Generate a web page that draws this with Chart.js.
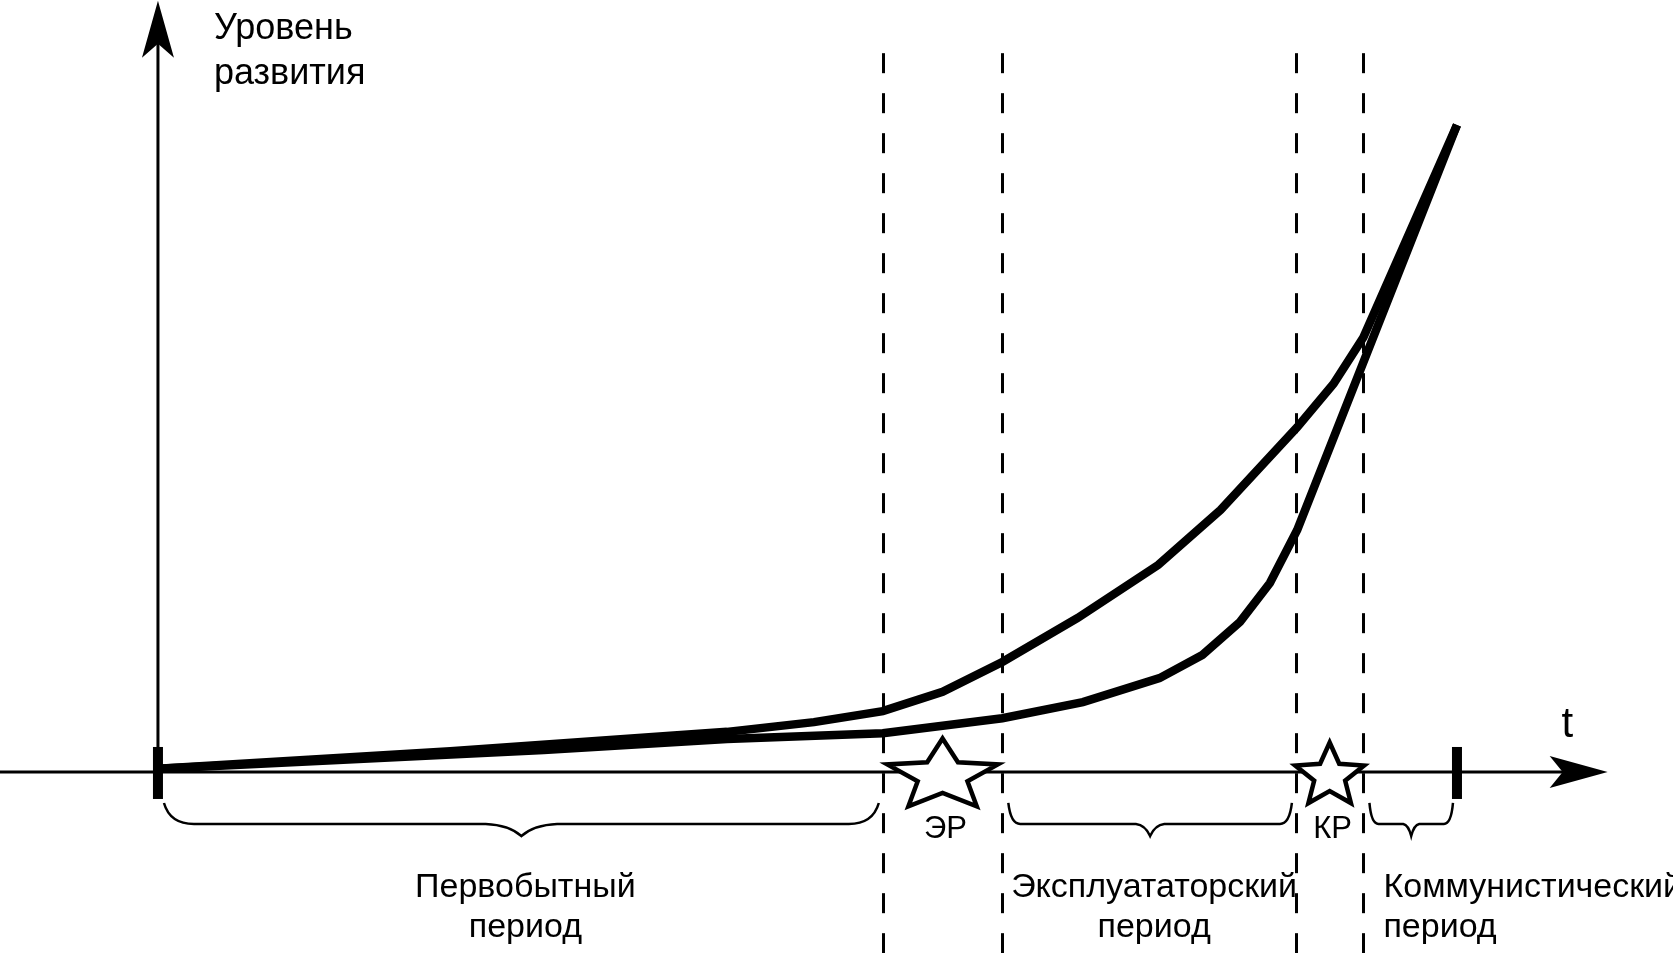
<!DOCTYPE html>
<html>
<head>
<meta charset="utf-8">
<script src="https://cdn.jsdelivr.net/npm/chart.js@4/dist/chart.umd.min.js"></script>
<style>
    html, body { margin: 0; padding: 0; background: #fff; }
    #wrap { width: 1673px; height: 953px; }
</style>
</head>
<body>
<div id="wrap"><canvas id="scheme" width="1673" height="953"></canvas></div>
<script>
// time axis: 0 = start of history, 100 = end tick; level axis: 0 = t-axis
var timeUpper  = [0, 22.5, 43.8, 50.5, 55.8, 60.4, 65.0, 70.8, 77.0, 81.8, 87.7, 90.5, 92.8, 100];
var levelUpper = [0.5, 3.2, 6.2, 7.7, 9.4, 12.4, 17.0, 23.8, 32.0, 40.5, 53.3, 60.0, 67.2, 100];

var timeLower  = [0, 29.7, 43.8, 55.8, 65.0, 71.2, 77.1, 80.4, 83.3, 85.6, 87.7, 100];
var levelLower = [0.5, 3.4, 5.1, 6.0, 8.3, 10.8, 14.5, 18.1, 23.2, 29.2, 37.4, 100];

// dashed borders of the periods
var borders = [55.8, 65.0, 87.6, 92.8];
var timeEnd = 100;

var periodLabels = [["Первобытный", "период"], ["Эксплуататорский", "период"], ["Коммунистический", "период"]];
var revolutionLabels = ["ЭР", "КР"];
var axisLabelY = ["Уровень", "развития"];
var axisLabelX = "t";

var FONT = '"Liberation Sans", Arial, sans-serif';

function makePoints(ts, ls) {
    var pts = [];
    for (var i = 0; i < ts.length; i++) pts.push({ x: ts[i], y: ls[i] });
    return pts;
}

function drawStar(ctx, cx, cy, R, sx) {
    var r = R * 0.45;
    ctx.beginPath();
    for (var i = 0; i < 10; i++) {
        var a = -Math.PI / 2 + i * Math.PI / 5;
        var rad = (i % 2 === 0) ? R : r;
        var x = cx + sx * rad * Math.cos(a);
        var y = cy + rad * Math.sin(a);
        if (i === 0) ctx.moveTo(x, y); else ctx.lineTo(x, y);
    }
    ctx.closePath();
    ctx.fillStyle = "#fff";
    ctx.fill();
    ctx.lineWidth = 4.5;
    ctx.strokeStyle = "#000";
    ctx.stroke();
}

function drawBrace(ctx, x0, x1, yTop, yH, depth) {
    var span = x1 - x0, xm = (x0 + x1) / 2;
    var ew = Math.max(9, span * 0.042), bw = Math.max(8, span * 0.05);
    ctx.beginPath();
    ctx.moveTo(x0, yTop);
    ctx.quadraticCurveTo(x0 + ew * 0.2, yH, x0 + ew, yH);
    ctx.lineTo(xm - bw, yH);
    ctx.quadraticCurveTo(xm - bw * 0.35, yH + 1, xm, yH + depth);
    ctx.quadraticCurveTo(xm + bw * 0.35, yH + 1, xm + bw, yH);
    ctx.lineTo(x1 - ew, yH);
    ctx.quadraticCurveTo(x1 - ew * 0.2, yH, x1, yTop);
    ctx.lineWidth = 2.5;
    ctx.strokeStyle = "#000";
    ctx.stroke();
}

var scheme = {
    id: "scheme",
    beforeDatasetsDraw: function (chart) {
        var ctx = chart.ctx, xs = chart.scales.x, ys = chart.scales.y;
        var x0 = xs.getPixelForValue(0), y0 = ys.getPixelForValue(0);
        var xTip = xs.getPixelForValue(111.6), yTip = ys.getPixelForValue(119.2);
        ctx.save();
        ctx.strokeStyle = "#000";
        ctx.fillStyle = "#000";

        // dashed borders
        ctx.lineWidth = 3;
        ctx.setLineDash([20, 20]);
        var dashTop = ys.getPixelForValue(111.1);
        borders.forEach(function (b) {
            var x = Math.round(xs.getPixelForValue(b)) + 0.5;
            ctx.beginPath();
            ctx.moveTo(x, dashTop);
            ctx.lineTo(x, chart.height);
            ctx.stroke();
        });
        ctx.setLineDash([]);

        // axes
        ctx.lineWidth = 3;
        ctx.beginPath();
        ctx.moveTo(0, y0);
        ctx.lineTo(xTip - 44, y0);
        ctx.moveTo(x0, y0);
        ctx.lineTo(x0, yTip + 42);
        ctx.stroke();

        // arrow heads
        ctx.beginPath();
        ctx.moveTo(xTip, y0);
        ctx.lineTo(xTip - 58, y0 - 16);
        ctx.lineTo(xTip - 45, y0);
        ctx.lineTo(xTip - 58, y0 + 16);
        ctx.closePath();
        ctx.fill();
        ctx.beginPath();
        ctx.moveTo(x0, yTip);
        ctx.lineTo(x0 - 16, yTip + 57);
        ctx.lineTo(x0, yTip + 43);
        ctx.lineTo(x0 + 16, yTip + 57);
        ctx.closePath();
        ctx.fill();
        ctx.restore();
    },
    afterDatasetsDraw: function (chart) {
        var ctx = chart.ctx, xs = chart.scales.x, ys = chart.scales.y;
        var x0 = xs.getPixelForValue(0), y0 = ys.getPixelForValue(0);
        var xEnd = xs.getPixelForValue(timeEnd);
        ctx.save();
        ctx.fillStyle = "#000";

        // start and end ticks
        ctx.fillRect(x0 - 5, y0 - 25, 10, 52);
        ctx.fillRect(xEnd - 5, y0 - 25, 10, 52);

        // revolutions between the borders
        var starR = [37.5, 33.5], starSx = [1.55, 1.08];
        for (var i = 0; i < 2; i++) {
            var a = xs.getPixelForValue(borders[i * 2]), b = xs.getPixelForValue(borders[i * 2 + 1]);
            var cx = (a + b) / 2;
            drawStar(ctx, cx, y0 + 4, starR[i], starSx[i]);
            ctx.fillStyle = "#000";
            ctx.font = "31px " + FONT;
            ctx.textAlign = "center";
            ctx.textBaseline = "alphabetic";
            ctx.fillText(revolutionLabels[i], cx + 3, y0 + 66);
        }

        // braces under the periods
        var spans = [[0, borders[0]], [borders[1], borders[2]], [borders[3], timeEnd]];
        spans.forEach(function (s, k) {
            var p0 = xs.getPixelForValue(s[0]) + 6, p1 = xs.getPixelForValue(s[1]) - 4;
            drawBrace(ctx, p0, p1, y0 + 31, y0 + 52, 12);
            ctx.fillStyle = "#000";
            ctx.font = "34px " + FONT;
            var tx;
            if (k < 2) { ctx.textAlign = "center"; tx = (p0 + p1) / 2 + 4; }
            else { ctx.textAlign = "left"; tx = p0 + 14; }
            ctx.fillText(periodLabels[k][0], tx, y0 + 125);
            ctx.fillText(periodLabels[k][1], tx, y0 + 165);
        });

        // axis titles
        ctx.textAlign = "left";
        ctx.font = "36px " + FONT;
        ctx.fillText(axisLabelY[0], x0 + 56, 39);
        ctx.fillText(axisLabelY[1], x0 + 56, 84);
        ctx.textAlign = "center";
        ctx.font = "42px " + FONT;
        ctx.fillText(axisLabelX, xs.getPixelForValue(108.5), y0 - 35);
        ctx.restore();
    }
};

var ctx = document.getElementById("scheme");
new Chart(ctx, {
    type: "scatter",
    data: {
        datasets: [{
            data: makePoints(timeUpper, levelUpper),
            showLine: true,
            borderColor: "#000",
            borderWidth: 8.5,
            pointRadius: 0,
            tension: 0,
            fill: false
        }, {
            data: makePoints(timeLower, levelLower),
            showLine: true,
            borderColor: "#000",
            borderWidth: 8.5,
            pointRadius: 0,
            tension: 0,
            fill: false
        }]
    },
    options: {
        responsive: false,
        animation: false,
        devicePixelRatio: 1,
        events: [],
        layout: { padding: 0 },
        plugins: {
            legend: { display: false },
            title: { display: false },
            tooltip: { enabled: false }
        },
        scales: {
            x: { type: "linear", display: false, min: -12.16, max: 116.63 },
            y: { type: "linear", display: false, min: -27.98, max: 119.32 }
        }
    },
    plugins: [scheme]
});
</script>
</body>
</html>
